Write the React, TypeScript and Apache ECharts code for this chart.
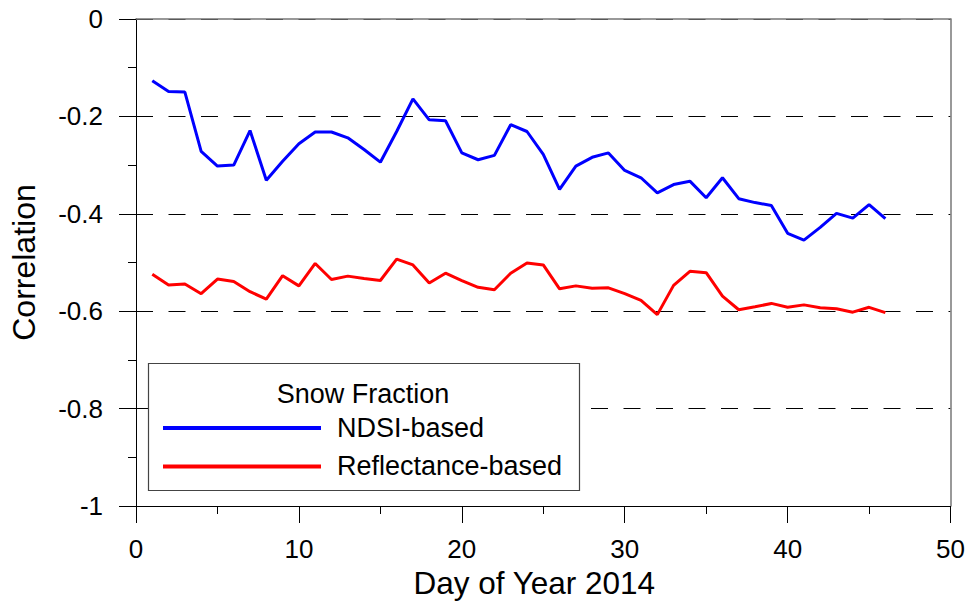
import React, { useEffect, useRef } from "react";
import * as echarts from "echarts";

const days: number[] = Array.from({ length: 46 }, (_, i) => i + 1);

const ndsiBased: number[] = [
  -0.127, -0.149, -0.150, -0.272, -0.302, -0.300, -0.229, -0.331, -0.292, -0.256,
  -0.232, -0.232, -0.244, -0.268, -0.294, -0.231, -0.164, -0.207, -0.209, -0.275,
  -0.289, -0.280, -0.217, -0.231, -0.278, -0.350, -0.302, -0.284, -0.275, -0.311,
  -0.326, -0.357, -0.340, -0.333, -0.367, -0.326, -0.369, -0.377, -0.383, -0.440,
  -0.454, -0.428, -0.399, -0.409, -0.381, -0.410,
];

const reflectanceBased: number[] = [
  -0.524, -0.546, -0.544, -0.564, -0.534, -0.539, -0.560, -0.575, -0.527, -0.548,
  -0.502, -0.535, -0.528, -0.533, -0.537, -0.493, -0.505, -0.542, -0.522, -0.537,
  -0.551, -0.556, -0.522, -0.501, -0.505, -0.554, -0.548, -0.553, -0.552, -0.564,
  -0.578, -0.607, -0.547, -0.518, -0.521, -0.569, -0.597, -0.591, -0.584, -0.592,
  -0.587, -0.593, -0.595, -0.602, -0.592, -0.603,
];

const seriesNames: string[] = ["NDSI-based", "Reflectance-based"];
const legendTitle = "Snow Fraction";
const xTitle = "Day of Year 2014";
const yTitle = "Correlation";

const FONT = "'Liberation Sans', Arial, sans-serif";

export default function App() {
  const ref = useRef<HTMLDivElement>(null);
  useEffect(() => {
    if (!ref.current) return;
    const chart = echarts.init(ref.current, null, { renderer: "svg" });
    const toPairs = (vals: number[]) => vals.map((v, i) => [days[i], v]);
    chart.setOption({
      animation: false,
      backgroundColor: "#ffffff",
      textStyle: { fontFamily: FONT, color: "#000" },
      grid: { left: 135, right: 17, top: 19, bottom: 96, containLabel: false },
      xAxis: [
        {
          type: "value",
          min: 0,
          max: 50,
          interval: 10,
          name: xTitle,
          nameLocation: "middle",
          nameGap: 61,
          nameTextStyle: { fontSize: 31.5, fontFamily: FONT, color: "#000", padding: [0, 18, 0, 0] },
          axisLine: { show: true, onZero: false, lineStyle: { color: "#000", width: 1 } },
          axisTick: { show: true, length: 17, lineStyle: { color: "#000", width: 1 } },
          minorTick: { show: true, splitNumber: 2, length: 8, lineStyle: { color: "#000", width: 1 } },
          axisLabel: { fontSize: 26, fontFamily: FONT, color: "#000", margin: 30 },
          splitLine: { show: false },
        },
        {
          type: "value",
          position: "top",
          min: 0,
          max: 50,
          interval: 10,
          axisLine: { show: true, onZero: false, lineStyle: { color: "#777", width: 1.5 } },
          axisTick: { show: false },
          axisLabel: { show: false },
          splitLine: { show: false },
        },
      ],
      yAxis: [
        {
          type: "value",
          min: -1,
          max: 0,
          interval: 0.2,
          name: yTitle,
          nameLocation: "middle",
          nameGap: 96,
          nameTextStyle: { fontSize: 32, fontFamily: FONT, color: "#000" },
          axisLine: { show: true, onZero: false, lineStyle: { color: "#000", width: 1 } },
          axisTick: { show: true, length: 17, lineStyle: { color: "#000", width: 1 } },
          minorTick: { show: true, splitNumber: 2, length: 8, lineStyle: { color: "#000", width: 1 } },
          axisLabel: { fontSize: 26, fontFamily: FONT, color: "#000", margin: 33 },
          splitLine: { show: true, lineStyle: { color: "#000", width: 1, type: [17, 15.5] } },
        },
        {
          type: "value",
          position: "right",
          min: -1,
          max: 0,
          interval: 0.2,
          axisLine: { show: true, onZero: false, lineStyle: { color: "#777", width: 1.5 } },
          axisTick: { show: false },
          axisLabel: { show: false },
          splitLine: { show: false },
        },
      ],
      legend: {
        orient: "vertical",
        left: 163,
        top: 413,
        padding: 0,
        icon: "rect",
        itemWidth: 158,
        itemHeight: 4,
        itemGap: 8.4,
        textStyle: { fontSize: 27, fontFamily: FONT, color: "#000", lineHeight: 30, padding: [0, 0, 0, 11] },
        data: seriesNames,
        z: 10,
      },
      graphic: [
        {
          type: "rect",
          z: 8,
          shape: { x: 148.5, y: 363.5, width: 431, height: 127 },
          style: { fill: "#ffffff", stroke: "#444", lineWidth: 1.2 },
        },
        {
          type: "text",
          z: 9,
          x: 363,
          y: 394,
          style: {
            text: legendTitle,
            fontSize: 27,
            fontFamily: FONT,
            fill: "#000",
            textAlign: "center",
            textVerticalAlign: "middle",
          },
        },
      ],
      series: [
        {
          name: seriesNames[0],
          type: "line",
          data: toPairs(ndsiBased),
          symbol: "none",
          lineStyle: { color: "#0000ff", width: 3 },
          itemStyle: { color: "#0000ff" },
          z: 3,
        },
        {
          name: seriesNames[1],
          type: "line",
          data: toPairs(reflectanceBased),
          symbol: "none",
          lineStyle: { color: "#ff0000", width: 3 },
          itemStyle: { color: "#ff0000" },
          z: 3,
        },
      ],
    });
    return () => chart.dispose();
  }, []);
  return <div ref={ref} style={{ width: 968, height: 604, position: "absolute", left: 0, top: 0 }} />;
}
